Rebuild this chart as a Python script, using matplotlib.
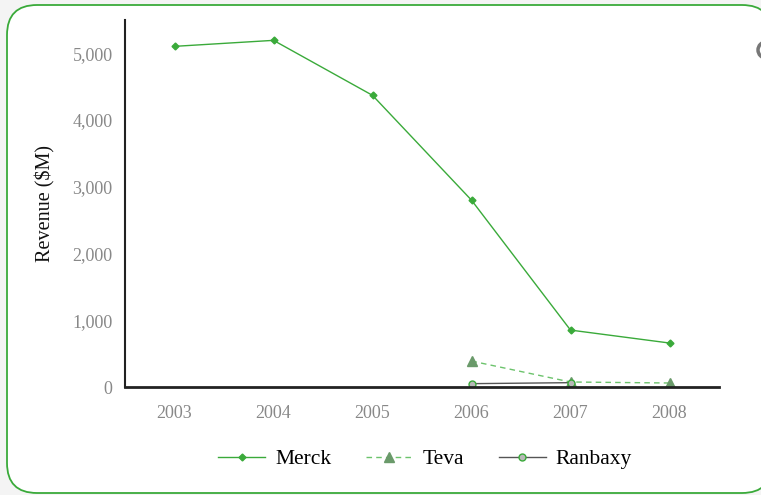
import matplotlib
matplotlib.use("Agg")
import matplotlib.pyplot as plt
from matplotlib.patches import FancyBboxPatch, Circle
from matplotlib.transforms import IdentityTransform
import numpy as np

years = ["2003", "2004", "2005", "2006", "2007", "2008"]
merck = [5105, 5195, 4371, 2800, 853, 659]
teva = [None, None, None, 389, 75, 60]
ranbaxy = [None, None, None, 50, 65, None]
yticks = [0, 1000, 2000, 3000, 4000, 5000]

plt.rcParams['font.family'] = ['Liberation Serif', 'DejaVu Serif']

fig = plt.figure(figsize=(7.61, 4.95), dpi=100)
fig.patch.set_facecolor("#f4f4f4")
W, H = 761, 495

# rounded frame (pixel coordinates, origin bottom-left)
frame = FancyBboxPatch((7, H - 493), 765, 488,
                       boxstyle="round,pad=0,rounding_size=30",
                       transform=IdentityTransform(), facecolor="white",
                       edgecolor="#3aaa3a", linewidth=1.3, zorder=-10)
fig.patches.append(frame)
circ = Circle((766, H - 50), 8, transform=IdentityTransform(),
              fill=False, edgecolor="#777777", linewidth=2.5, zorder=-5)
fig.patches.append(circ)

ax = fig.add_axes([125 / W, (H - 387) / H, (719 - 125) / W, (387 - 20) / H])
ax.patch.set_alpha(0)
x = np.arange(len(years))

def arr(v):
    return np.array([np.nan if a is None else a for a in v], dtype=float)

ax.plot(x, arr(merck), color="#3aaa3a", lw=1.0, marker="D", ms=3.5,
        mfc="#3aaa3a", mec="#3aaa3a", label="Merck")
ax.plot(x, arr(teva), color="#6cc36c", lw=1.0, ls=(0, (4, 3)), marker="^", ms=7,
        mfc="#6a9a6a", mec="#6a9a6a", label="Teva")
ax.plot(x, arr(ranbaxy), color="#555555", lw=1.0, marker="o", ms=5,
        mfc="#b8b8b8", mec="#3aaa3a", mew=1.0, label="Ranbaxy")

ax.set_xlim(-0.5, len(years) - 0.5)
ax.set_ylim(0, 5500)
ax.set_xticks(x)
ax.set_xticklabels(years)
ax.set_yticks(yticks)
ax.set_yticklabels([f"{v:,}" for v in yticks])
ax.tick_params(axis="both", length=0, labelsize=13, labelcolor="#888888")
ax.tick_params(axis="x", pad=13)
ax.tick_params(axis="y", pad=9)
for s in ["top", "right"]:
    ax.spines[s].set_visible(False)
ax.spines["left"].set_color("#222222")
ax.spines["left"].set_linewidth(1.5)
ax.spines["bottom"].set_color("#222222")
ax.spines["bottom"].set_linewidth(2)
ax.set_ylabel("Revenue ($M)", fontsize=14.5, color="#111111", labelpad=12)

fig.legend(loc="center", bbox_to_anchor=(425 / W, (H - 459) / H), ncol=3,
           frameon=False, fontsize=15.5, handlelength=2.2, columnspacing=1.6,
           handletextpad=0.45)

fig.savefig("out.png", dpi=100, facecolor=fig.get_facecolor())
